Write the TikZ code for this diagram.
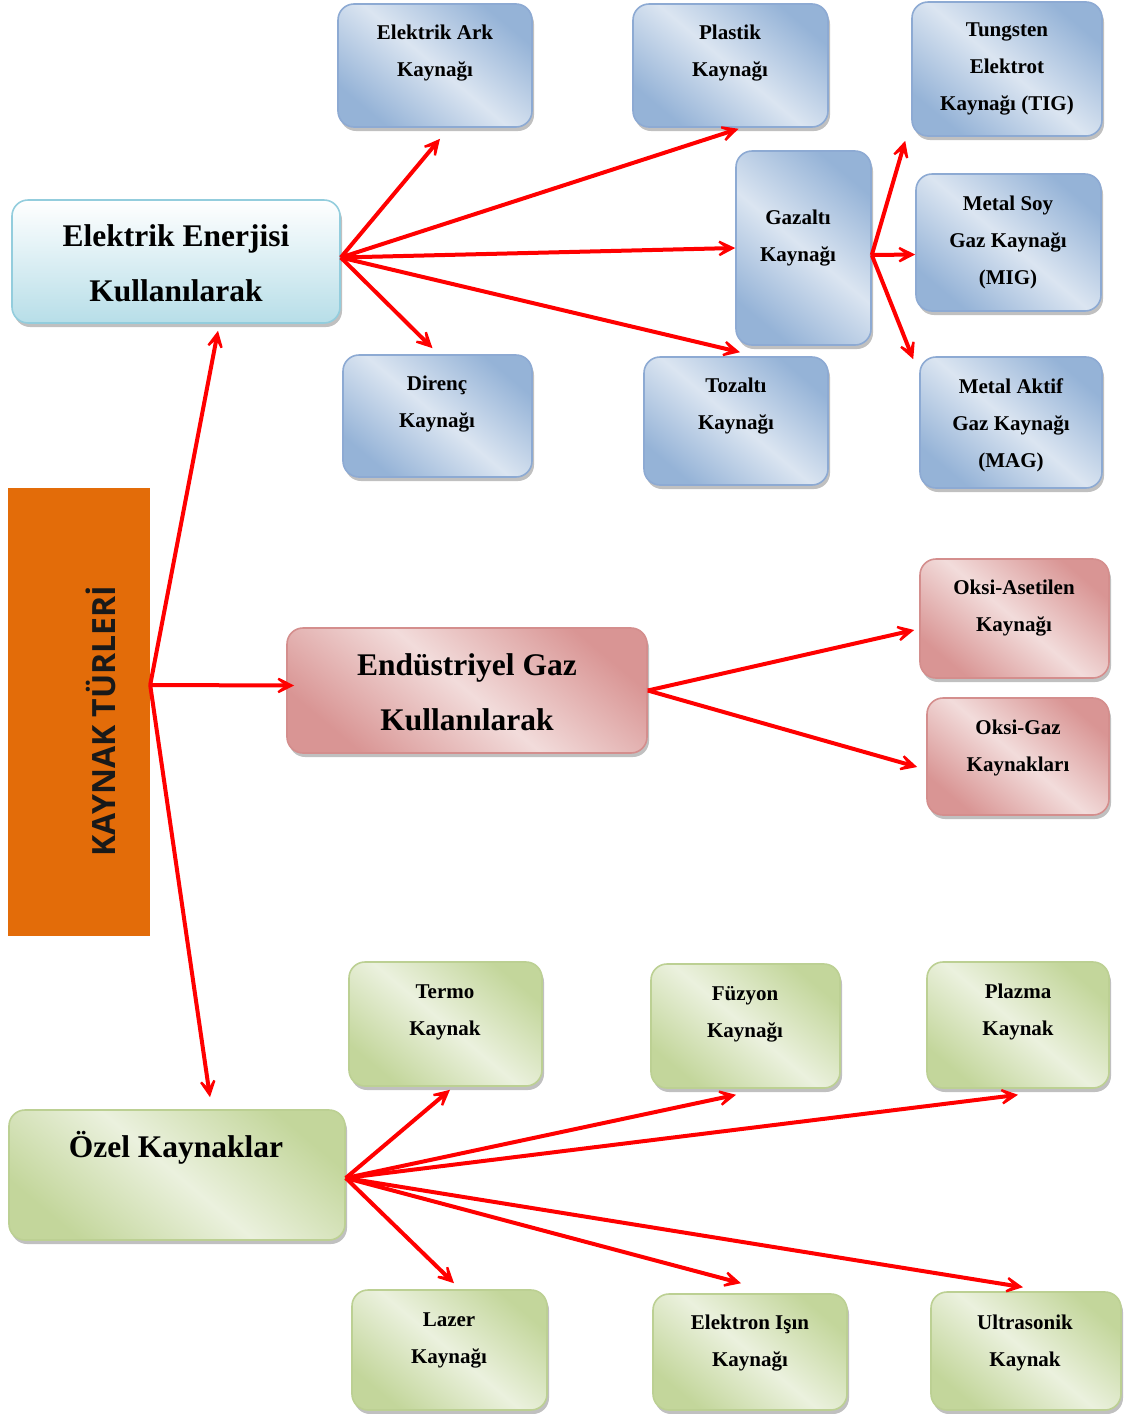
\documentclass[tikz,border=0pt]{standalone}
\usepackage{fontspec}
\setmainfont{Liberation Serif}
\newfontfamily\trfont{Open Sans}
\usetikzlibrary{arrows.meta,shadows}

\definecolor{blued}{HTML}{95B3D7}
\definecolor{bluel}{HTML}{DBE5F1}
\definecolor{blueb}{HTML}{8DAAD3}
\definecolor{redd}{HTML}{D99594}
\definecolor{redl}{HTML}{F2DCDB}
\definecolor{redb}{HTML}{D48E8D}
\definecolor{grnd}{HTML}{C3D69B}
\definecolor{grnl}{HTML}{EBF1DE}
\definecolor{grnb}{HTML}{BCD093}
\definecolor{cyand}{HTML}{B7DEE8}
\definecolor{cyanb}{HTML}{93CDDD}
\definecolor{turuncu}{HTML}{E36C09}

\tikzset{
  kutu/.style={line width=1.6pt, rounded corners=16pt,
    drop shadow={shadow xshift=2pt, shadow yshift=-4pt, fill=black!45, opacity=.55}},
  bluebox/.style={kutu, draw=blueb, top color=blued, bottom color=blued, middle color=bluel, shading angle=-40},
  redbox/.style={kutu, draw=redb, top color=redd, bottom color=redd, middle color=redl, shading angle=-40},
  greenbox/.style={kutu, draw=grnb, top color=grnd, bottom color=grnd, middle color=grnl, shading angle=-40},
  cyanbox/.style={kutu, draw=cyanb, top color=white, bottom color=cyand},
  txtsmall/.style={align=center, font=\fontsize{21}{37}\selectfont\bfseries, yshift=-3pt},
  txtbig/.style={align=center, font=\fontsize{31.5}{55}\selectfont\bfseries},
  arr/.style={draw=red, line width=4pt, -{Stealth[length=26pt,width=26pt,inset=17pt]}}
}

\begin{document}
\begin{tikzpicture}[x=1pt,y=-1pt]
  \useasboundingbox (0,0) rectangle (1125,1414);

  %% kaynak turleri
  \node[fill=turuncu, minimum width=142pt, minimum height=448pt, inner sep=0pt] (kaynak) at (79,712) {};
  \node[rotate=90, font=\trfont\bfseries\fontsize{32}{32}\selectfont, text=black!90] (kaynakt) at (101,721) {KAYNAK TÜRLERİ};

  %% main boxes
  \node[cyanbox, minimum width=328pt, minimum height=123pt] (elen) at (176,261.5) {};
    \node[txtbig] (elent) at (176,263.5) {Elektrik Enerjisi\\Kullanılarak};
  \node[redbox, minimum width=360pt, minimum height=125pt] (endgaz) at (467,690.5) {};
    \node[txtbig] (endgazt) at (467,692) {Endüstriyel Gaz\\Kullanılarak};
  \node[greenbox, minimum width=336pt, minimum height=130pt] (ozel) at (177,1175) {};
    \node[txtbig] (ozelt) at (176,1148) {Özel Kaynaklar};

  %% elektrik
  \node[bluebox, minimum width=194pt, minimum height=123pt] (ark) at (435,65.5) {};
    \node[txtsmall] (arkt) at (435,50.5) {Elektrik Ark\\Kaynağı};
  \node[bluebox, minimum width=195pt, minimum height=123pt] (plastik) at (730.5,65.5) {};
    \node[txtsmall] (plastikt) at (730,50.5) {Plastik\\Kaynağı};
  \node[bluebox, minimum width=135pt, minimum height=194pt] (gazalti) at (803.5,248) {};
    \node[txtsmall] (gazaltit) at (798,235) {Gazaltı\\Kaynağı};
  \node[bluebox, minimum width=189pt, minimum height=122pt] (direnc) at (437.5,416) {};
    \node[txtsmall] (direnct) at (437,401.5) {Direnç\\Kaynağı};
  \node[bluebox, minimum width=184pt, minimum height=128pt] (tozalti) at (736,421) {};
    \node[txtsmall] (tozaltit) at (736,403.5) {Tozaltı\\Kaynağı};

  %% gazalti
  \node[bluebox, minimum width=190pt, minimum height=134pt] (tig) at (1007,69) {};
    \node[txtsmall] (tigt) at (1007,66) {Tungsten\\Elektrot\\Kaynağı (TIG)};
  \node[bluebox, minimum width=185pt, minimum height=137pt] (mig) at (1008.5,242.5) {};
    \node[txtsmall] (migt) at (1008,239.5) {Metal Soy\\Gaz Kaynağı\\(MIG)};
  \node[bluebox, minimum width=182pt, minimum height=131pt] (mag) at (1011,422.5) {};
    \node[txtsmall] (magt) at (1011,422.5) {Metal Aktif\\Gaz Kaynağı\\(MAG)};

  %% gaz
  \node[redbox, minimum width=189pt, minimum height=119pt] (asetilen) at (1014.5,618.5) {};
    \node[txtsmall] (asetilent) at (1014,605.5) {Oksi-Asetilen\\Kaynağı};
  \node[redbox, minimum width=182pt, minimum height=117pt] (oksigaz) at (1018,756.5) {};
    \node[txtsmall] (oksigazt) at (1018,744.5) {Oksi-Gaz\\Kaynakları};

  %% ozel
  \node[greenbox, minimum width=193pt, minimum height=124pt] (termo) at (445.5,1024) {};
    \node[txtsmall] (termot) at (445,1009) {Termo\\Kaynak};
  \node[greenbox, minimum width=189pt, minimum height=124pt] (fuzyon) at (745.5,1026) {};
    \node[txtsmall] (fuzyont) at (745,1011.5) {Füzyon\\Kaynağı};
  \node[greenbox, minimum width=182pt, minimum height=126pt] (plazma) at (1018,1025) {};
    \node[txtsmall] (plazmat) at (1018,1009) {Plazma\\Kaynak};
  \node[greenbox, minimum width=195pt, minimum height=120pt] (lazer) at (449.5,1350) {};
    \node[txtsmall] (lazert) at (449,1337) {Lazer\\Kaynağı};
  \node[greenbox, minimum width=194pt, minimum height=116pt] (elektron) at (750,1352) {};
    \node[txtsmall] (elektront) at (750,1340.5) {Elektron Işın\\Kaynağı};
  \node[greenbox, minimum width=190pt, minimum height=118pt] (ultra) at (1026,1351) {};
    \node[txtsmall] (ultrat) at (1025,1339.5) {Ultrasonik\\Kaynak};

  %% arrows
  \draw[arr] ([yshift=27pt]kaynak.east) -- ([xshift=42pt,yshift=-7pt]elen.south);
  \draw[arr] ([yshift=27pt]kaynak.east) -- ([xshift=8pt,yshift=5pt]endgaz.west);
  \draw[arr] ([yshift=27pt]kaynak.east) -- ([xshift=33pt,yshift=12pt]ozel.north);

  \draw[arr] ([yshift=4pt]elen.east) -- ([xshift=5pt,yshift=-11pt]ark.south);
  \draw[arr] ([yshift=4pt]elen.east) -- ([xshift=8pt,yshift=-1pt]plastik.south);
  \draw[arr] ([yshift=4pt]elen.east) -- (gazalti.west);
  \draw[arr] ([yshift=4pt]elen.east) -- ([xshift=4pt,yshift=4pt]tozalti.north);
  \draw[arr] ([yshift=4pt]elen.east) -- ([xshift=-5pt,yshift=6pt]direnc.north);

  \draw[arr] ([yshift=-7pt]gazalti.east) -- ([xshift=-6pt,yshift=-4pt]tig.south west);
  \draw[arr] ([yshift=-7pt]gazalti.east) -- ([yshift=-12pt]mig.west);
  \draw[arr] ([yshift=-7pt]gazalti.east) -- ([xshift=-6pt,yshift=-3pt]mag.north west);

  \draw[arr] (endgaz.east) -- ([xshift=-5pt,yshift=-11.5pt]asetilen.west);
  \draw[arr] (endgaz.east) -- ([xshift=-9pt,yshift=-10.5pt]oksigaz.west);

  \draw[arr] ([yshift=-3pt]ozel.east) -- ([xshift=4.5pt,yshift=-3pt]termo.south);
  \draw[arr] ([yshift=-3pt]ozel.east) -- ([xshift=-9.5pt,yshift=-6pt]fuzyon.south);
  \draw[arr] ([yshift=-3pt]ozel.east) -- ([yshift=-6pt]plazma.south);
  \draw[arr] ([yshift=-3pt]ozel.east) -- ([xshift=4.5pt,yshift=6pt]lazer.north);
  \draw[arr] ([yshift=-3pt]ozel.east) -- ([xshift=-9pt,yshift=10pt]elektron.north);
  \draw[arr] ([yshift=-3pt]ozel.east) -- ([xshift=-3pt,yshift=4pt]ultra.north);
\end{tikzpicture}
\end{document}
